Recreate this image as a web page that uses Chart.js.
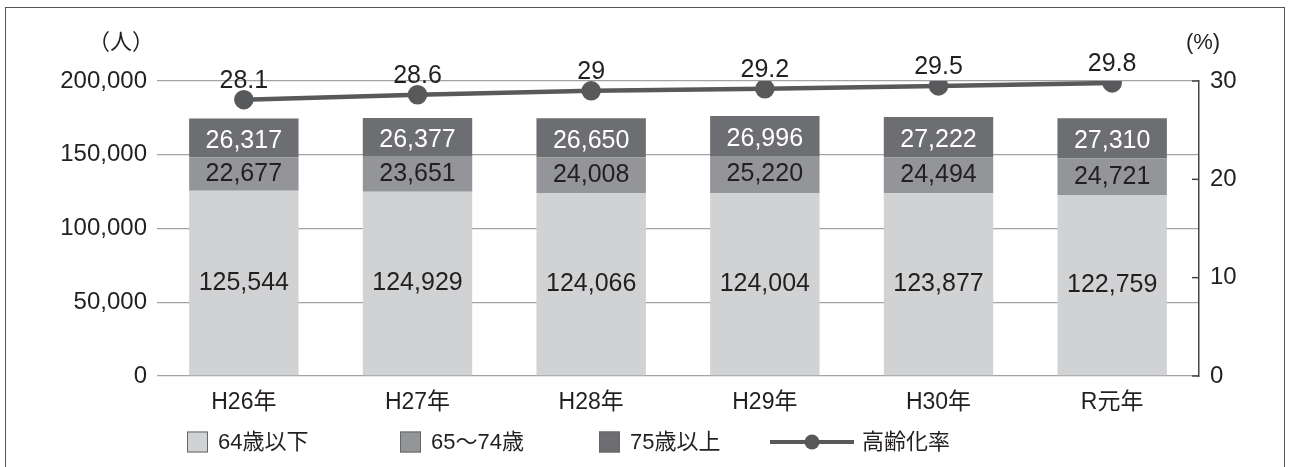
<!DOCTYPE html>
<html lang="ja">
<head>
  <meta charset="UTF-8">
  <title>高齢化率の推移</title>
  <script src="https://cdn.jsdelivr.net/npm/chart.js"></script>
  <style>
    html, body { margin: 0; padding: 0; background: #fff; }
    .wrap { position: relative; width: 1291px; height: 467px; }
    .frame { position: absolute; left: 5px; top: 7px; width: 1280px; height: 470px; border: 1.5px solid #555; box-sizing: border-box; }
    canvas { position: absolute; left: 0; top: 0; }
  </style>
</head>
<body>
  <div class="wrap">
    <div class="frame"></div>
    <canvas id="chart" width="1291" height="467"></canvas>
  </div>

  <script>
    // data
    const years = ['H26年', 'H27年', 'H28年', 'H29年', 'H30年', 'R元年'];
    const under64 = [125544, 124929, 124066, 124004, 123877, 122759];
    const age65to74 = [22677, 23651, 24008, 25220, 24494, 24721];
    const over75 = [26317, 26377, 26650, 26996, 27222, 27310];
    const agingRate = [28.1, 28.6, 29, 29.2, 29.5, 29.8];
    const seriesNames = ['64歳以下', '65～74歳', '75歳以上', '高齢化率'];
    const leftTicks = [0, 50000, 100000, 150000, 200000];
    const rightTicks = [0, 10, 20, 30];

    const FONT = "'Liberation Sans', 'Noto Sans CJK JP', sans-serif";
    const TXT = '#231f20';
    const colLight = '#d1d2d4', colMid = '#939598', colDark = '#6d6e71', colLine = '#58595b';

    const fmt = v => v.toLocaleString('en-US');

    const labelPlugin = {
      id: 'labels',
      afterDatasetsDraw(chart) {
        const ctx = chart.ctx;
        ctx.save();
        ctx.textAlign = 'center';
        ctx.textBaseline = 'middle';
        chart.data.datasets.forEach((ds, i) => {
          const meta = chart.getDatasetMeta(i);
          meta.data.forEach((el, j) => {
            const v = ds.data[j];
            ctx.font = '25px ' + FONT;
            if (ds.type === 'line') {
              ctx.fillStyle = TXT;
              ctx.fillText(String(v), el.x, el.y - 19);
            } else {
              const dark = ds.label === seriesNames[2];
              ctx.fillStyle = dark ? '#fff' : TXT;
              ctx.fillText(fmt(v), el.x, (el.y + el.base) / 2 + (dark ? 3 : 0));
            }
          });
        });
        ctx.restore();
      },
      afterDraw(chart) {
        const ctx = chart.ctx;
        const a = chart.chartArea;
        const y1 = chart.scales.y1;
        ctx.save();
        // inward ticks on right axis
        ctx.strokeStyle = '#444';
        ctx.lineWidth = 1.5;
        rightTicks.forEach(t => {
          const py = y1.getPixelForValue(t);
          ctx.beginPath();
          ctx.moveTo(a.right - 7, py);
          ctx.lineTo(a.right, py);
          ctx.stroke();
        });
        // axis unit titles
        ctx.fillStyle = TXT;
        ctx.font = '22px ' + FONT;
        ctx.textBaseline = 'middle';
        ctx.textAlign = 'right';
        ctx.fillText('（人）', 154, 43);
        ctx.textAlign = 'center';
        ctx.fillText('(%)', 1203, 43);

        // legend
        const ly = 442;
        const xs = [187, 400, 599, 770];
        const fills = [colLight, colMid, colDark];
        ctx.font = '22px ' + FONT;
        ctx.textAlign = 'left';
        for (let k = 0; k < 3; k++) {
          ctx.fillStyle = fills[k];
          ctx.fillRect(xs[k], ly - 10.5, 21, 21);
          ctx.strokeStyle = '#666';
          ctx.lineWidth = 1;
          ctx.strokeRect(xs[k] + 0.5, ly - 10, 20, 20);
          ctx.fillStyle = TXT;
          ctx.fillText(seriesNames[k], xs[k] + 31, ly + 1);
        }
        ctx.strokeStyle = colLine;
        ctx.lineWidth = 4;
        ctx.beginPath();
        ctx.moveTo(xs[3], ly);
        ctx.lineTo(xs[3] + 84, ly);
        ctx.stroke();
        ctx.fillStyle = colLine;
        ctx.beginPath();
        ctx.arc(xs[3] + 42, ly, 7.5, 0, Math.PI * 2);
        ctx.fill();
        ctx.fillStyle = TXT;
        ctx.fillText(seriesNames[3], xs[3] + 92, ly + 1);
        ctx.restore();
      }
    };

    new Chart(document.getElementById('chart'), {
      data: {
        labels: years,
        datasets: [
          { type: 'line', label: seriesNames[3], data: agingRate, yAxisID: 'y1', borderColor: colLine, backgroundColor: colLine, borderWidth: 4.5, pointRadius: 7.5, pointHoverRadius: 7.5, order: 0 },
          { type: 'bar', label: seriesNames[0], data: under64, backgroundColor: colLight, yAxisID: 'y', order: 1 },
          { type: 'bar', label: seriesNames[1], data: age65to74, backgroundColor: colMid, yAxisID: 'y', order: 1 },
          { type: 'bar', label: seriesNames[2], data: over75, backgroundColor: colDark, yAxisID: 'y', order: 1 }
        ]
      },
      options: {
        responsive: false,
        animation: false,
        layout: { padding: { top: 81, left: 0, right: 0, bottom: 0 } },
        datasets: { bar: { categoryPercentage: 1, barPercentage: 0.63 } },
        plugins: { legend: { display: false }, tooltip: { enabled: false } },
        scales: {
          x: {
            stacked: true,
            grid: { display: false },
            border: { display: false },
            ticks: { color: TXT, font: { family: FONT, size: 23 }, padding: 5 },
            afterFit: s => { s.height = 91; }
          },
          y: {
            stacked: true,
            min: 0, max: 200000,
            afterBuildTicks: s => { s.ticks = leftTicks.map(v => ({ value: v })); },
            grid: { color: '#a3a3a3', lineWidth: 1.3, drawTicks: false },
            border: { display: false },
            ticks: { color: TXT, font: { family: FONT, size: 24 }, padding: 10, callback: v => fmt(v) },
            afterFit: s => { s.width = 157; }
          },
          y1: {
            position: 'right',
            min: 0, max: 30,
            afterBuildTicks: s => { s.ticks = rightTicks.map(v => ({ value: v })); },
            grid: { drawOnChartArea: false, drawTicks: false },
            border: { display: true, color: '#444', width: 1.5 },
            ticks: { color: TXT, font: { family: FONT, size: 24 }, padding: 11 },
            afterFit: s => { s.width = 92; }
          }
        }
      },
      plugins: [labelPlugin]
    });
  </script>
</body>
</html>
